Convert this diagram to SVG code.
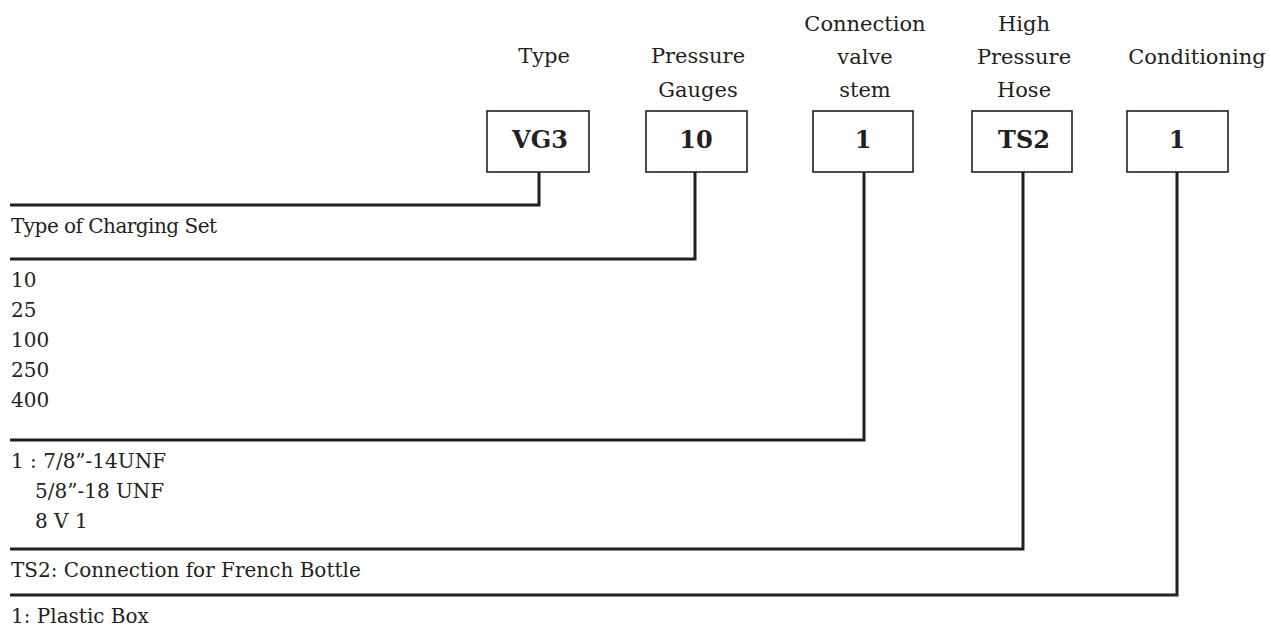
<svg xmlns="http://www.w3.org/2000/svg" width="1271" height="626" viewBox="0 0 1271 626">
<style>
.hdr{font-family:"DejaVu Serif","Liberation Serif",serif;font-size:21px;fill:#231f20;text-anchor:middle}
.body{font-family:"DejaVu Serif","Liberation Serif",serif;font-size:20px;fill:#231f20}
.code{font-family:"DejaVu Serif","Liberation Serif",serif;font-size:24px;font-weight:bold;fill:#231f20;text-anchor:middle}
.box{fill:#fff;stroke:#231f20;stroke-width:1.6}
.conn{fill:none;stroke:#231f20;stroke-width:3;stroke-linejoin:miter}
</style>
<rect width="1271" height="626" fill="#fff"/>
<g id="connectors">
<path class="conn" d="M539 172 V205 H10"/>
<path class="conn" d="M695 172 V259 H10"/>
<path class="conn" d="M864 172 V440 H10"/>
<path class="conn" d="M1023 172 V549 H10"/>
<path class="conn" d="M1177 172 V595 H10"/>
</g>
<g id="node-type">
<text class="hdr" x="544" y="63">Type</text>
<rect class="box" x="487" y="111" width="102" height="61"/>
<text class="code" x="540" y="148">VG3</text>
</g>
<g id="node-gauges">
<text class="hdr" x="698" y="63">Pressure</text>
<text class="hdr" x="698" y="97">Gauges</text>
<rect class="box" x="646" y="111" width="101" height="61"/>
<text class="code" x="696" y="148">10</text>
</g>
<g id="node-valve">
<text class="hdr" x="865" y="31">Connection</text>
<text class="hdr" x="865" y="64">valve</text>
<text class="hdr" x="865" y="97">stem</text>
<rect class="box" x="813" y="111" width="100" height="61"/>
<text class="code" x="863" y="148">1</text>
</g>
<g id="node-hose">
<text class="hdr" x="1024" y="31">High</text>
<text class="hdr" x="1024" y="64">Pressure</text>
<text class="hdr" x="1024" y="97">Hose</text>
<rect class="box" x="972" y="111" width="100" height="61"/>
<text class="code" x="1024" y="148">TS2</text>
</g>
<g id="node-conditioning">
<text class="hdr" x="1197" y="64">Conditioning</text>
<rect class="box" x="1127" y="111" width="101" height="61"/>
<text class="code" x="1177" y="148">1</text>
</g>
<g id="descriptions">
<text class="body" x="11" y="233" textLength="206" lengthAdjust="spacing">Type of Charging Set</text>
<text class="body" x="11" y="287">10</text>
<text class="body" x="11" y="317">25</text>
<text class="body" x="11" y="347">100</text>
<text class="body" x="11" y="377">250</text>
<text class="body" x="11" y="407">400</text>
<text class="body" x="11" y="468">1 : 7/8”-14UNF</text>
<text class="body" x="35" y="498">5/8”-18 UNF</text>
<text class="body" x="35" y="528">8 V 1</text>
<text class="body" x="11" y="577">TS2: Connection for French Bottle</text>
<text class="body" x="11" y="623">1: Plastic Box</text>
</g>
</svg>
